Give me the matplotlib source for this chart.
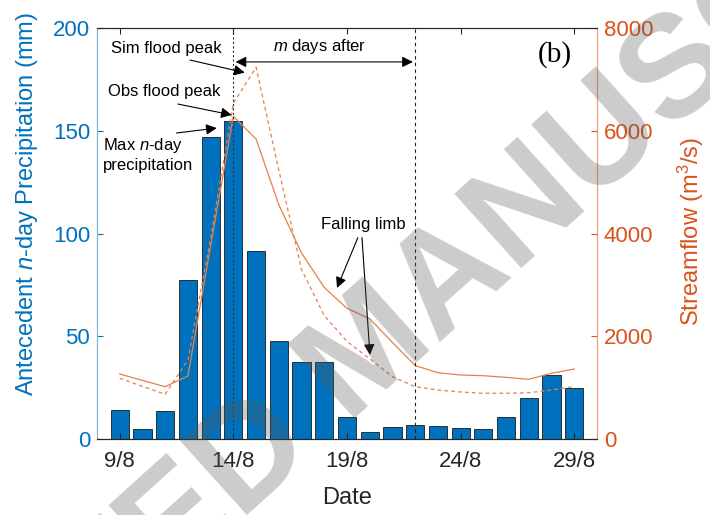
import matplotlib
matplotlib.use('Agg')
import matplotlib.pyplot as plt

plt.rcParams['font.family'] = ['Liberation Sans', 'DejaVu Sans']
plt.rcParams['mathtext.fontset'] = 'custom'
plt.rcParams['mathtext.rm'] = 'Liberation Sans'
plt.rcParams['mathtext.it'] = 'Liberation Sans:italic'

# daily values, 9 Aug to 29 Aug
dates = ['%d/8' % d for d in range(9, 30)]
precip = [14.0, 4.7, 13.6, 77.4, 147.2, 154.7, 91.5, 47.6, 37.6, 37.3, 10.7,
          3.4, 6.0, 7.0, 6.2, 5.4, 4.7, 10.7, 20.1, 31.1, 24.7]
obs_flow = [1265, 1140, 1018, 1226, 3760, 6280, 5840, 4560, 3620, 2950, 2544,
            2340, 1880, 1430, 1290, 1246, 1232, 1200, 1162, 1279, 1362]
sim_flow = [1181, 1025, 870, 1540, 3900, 6535, 7235, 5236, 3300, 2400, 1900,
            1560, 1213, 1018, 954, 915, 890, 890, 900, 954, 1018]
tick_dates = ['9/8', '14/8', '19/8', '24/8', '29/8']
obs_peak = '14/8'
end_date = '22/8'

blue = '#0072BD'
orange = '#D95319'
line_orange = '#E2824C'

x = list(range(1, len(dates) + 1))
xpos = {d: i for d, i in zip(dates, x)}

fig = plt.figure(figsize=(7.1, 5.15), dpi=100)
ax = fig.add_axes([0.1366, 0.1476, 0.7042, 0.798])
ax2 = ax.twinx()

ax.bar(x, precip, width=0.8, color=blue, edgecolor='#1a1a1a', linewidth=0.6)
ax2.plot(x, obs_flow, '-', color=line_orange, lw=0.9)
ax2.plot(x, sim_flow, '--', color=line_orange, lw=0.9, dashes=(3, 2.5))

ax.set_xlim(0, len(dates) + 1)
ax.set_ylim(0, 200)
ax2.set_ylim(0, 8000)
ax.set_yticks([0, 50, 100, 150, 200])
ax2.set_yticks([0, 2000, 4000, 6000, 8000])
ax.set_xticks([xpos[d] for d in tick_dates])
ax.set_xticklabels(tick_dates)

ax.tick_params(axis='x', direction='in', top=True, length=4, labelsize=16,
               colors='#262626', pad=9)
ax.tick_params(axis='y', direction='in', length=4, labelsize=16,
               colors=blue, pad=5)
ax2.tick_params(axis='y', direction='in', length=4, labelsize=16,
                colors=orange, pad=5)
ax2.tick_params(axis='x', top=False, bottom=False)

for a in (ax, ax2):
    a.spines['top'].set_color('#262626')
    a.spines['bottom'].set_color('#262626')
    a.spines['left'].set_color('#7fb3da')
    a.spines['right'].set_color('#e8a07a')
    for s in a.spines.values():
        s.set_linewidth(0.8)

ax.set_xlabel('Date', fontsize=17, color='#262626')
ax.xaxis.set_label_coords(0.5, -0.118)
ax.set_ylabel('Antecedent $n$-day Precipitation (mm)', fontsize=17, color=blue)
ax.yaxis.set_label_coords(-0.114, 0.572)
ax2.set_ylabel('Streamflow (m$^3$/s)', fontsize=17, color=orange)
ax2.yaxis.set_label_coords(1.158, 0.504)

# peak and end-of-window markers
ax2.axvline(xpos[obs_peak], color='#333333', ls='--', lw=0.8, dashes=(2, 2))
ax2.axvline(xpos[end_date], color='#1a1a1a', ls='--', lw=0.8, dashes=(3, 3))

arrow = dict(arrowstyle='-|>', color='k', lw=0.8, mutation_scale=16,
             shrinkA=0, shrinkB=0)
tr = ax.transData

ax2.annotate('', xy=(xpos[obs_peak] + 0.1, 183.5), xytext=(xpos[end_date] - 0.1, 183.5),
             xycoords=tr, textcoords=tr,
             arrowprops=dict(arrowstyle='<|-|>', color='k', lw=0.8,
                             mutation_scale=16, shrinkA=0, shrinkB=0))
ax2.text(9.8, 190.8, '$m$ days after', transform=tr, fontsize=12,
         ha='center', va='center')

ax2.text(3.07, 189.8, 'Sim flood peak', transform=tr, fontsize=12,
         ha='center', va='center')
ax2.annotate('', xy=(6.5, 178.3), xytext=(4.1, 184.4),
             xycoords=tr, textcoords=tr, arrowprops=arrow)

ax2.text(2.94, 168.9, 'Obs flood peak', transform=tr, fontsize=12,
         ha='center', va='center')
ax2.annotate('', xy=(5.93, 157.7), xytext=(3.56, 163.0),
             xycoords=tr, textcoords=tr, arrowprops=arrow)

ax2.text(0.25, 138.5, 'Max $n$-day\nprecipitation', transform=tr,
         fontsize=12, ha='left', va='center', linespacing=1.25)
ax2.annotate('', xy=(5.27, 151.3), xytext=(3.5, 148.9),
             xycoords=tr, textcoords=tr, arrowprops=arrow)

ax2.text(11.7, 104.6, 'Falling limb', transform=tr, fontsize=12,
         ha='center', va='center')
ax2.annotate('', xy=(10.56, 73.5), xytext=(11.48, 98.0),
             xycoords=tr, textcoords=tr, arrowprops=arrow)
ax2.annotate('', xy=(12.01, 40.9), xytext=(11.66, 98.0),
             xycoords=tr, textcoords=tr, arrowprops=arrow)

ax2.text(20.16, 186.9, '(b)', transform=tr, fontsize=21,
         family='Liberation Serif', ha='center', va='center')

# manuscript watermark across the page
fig.text(0.522, 0.312, 'ACCEPTED MANUSCRIPT', fontsize=104, color='#555555',
         fontweight='bold', alpha=0.3, rotation=42, ha='center', va='center',
         rotation_mode='anchor', zorder=10)

fig.savefig('out.png', dpi=100)
